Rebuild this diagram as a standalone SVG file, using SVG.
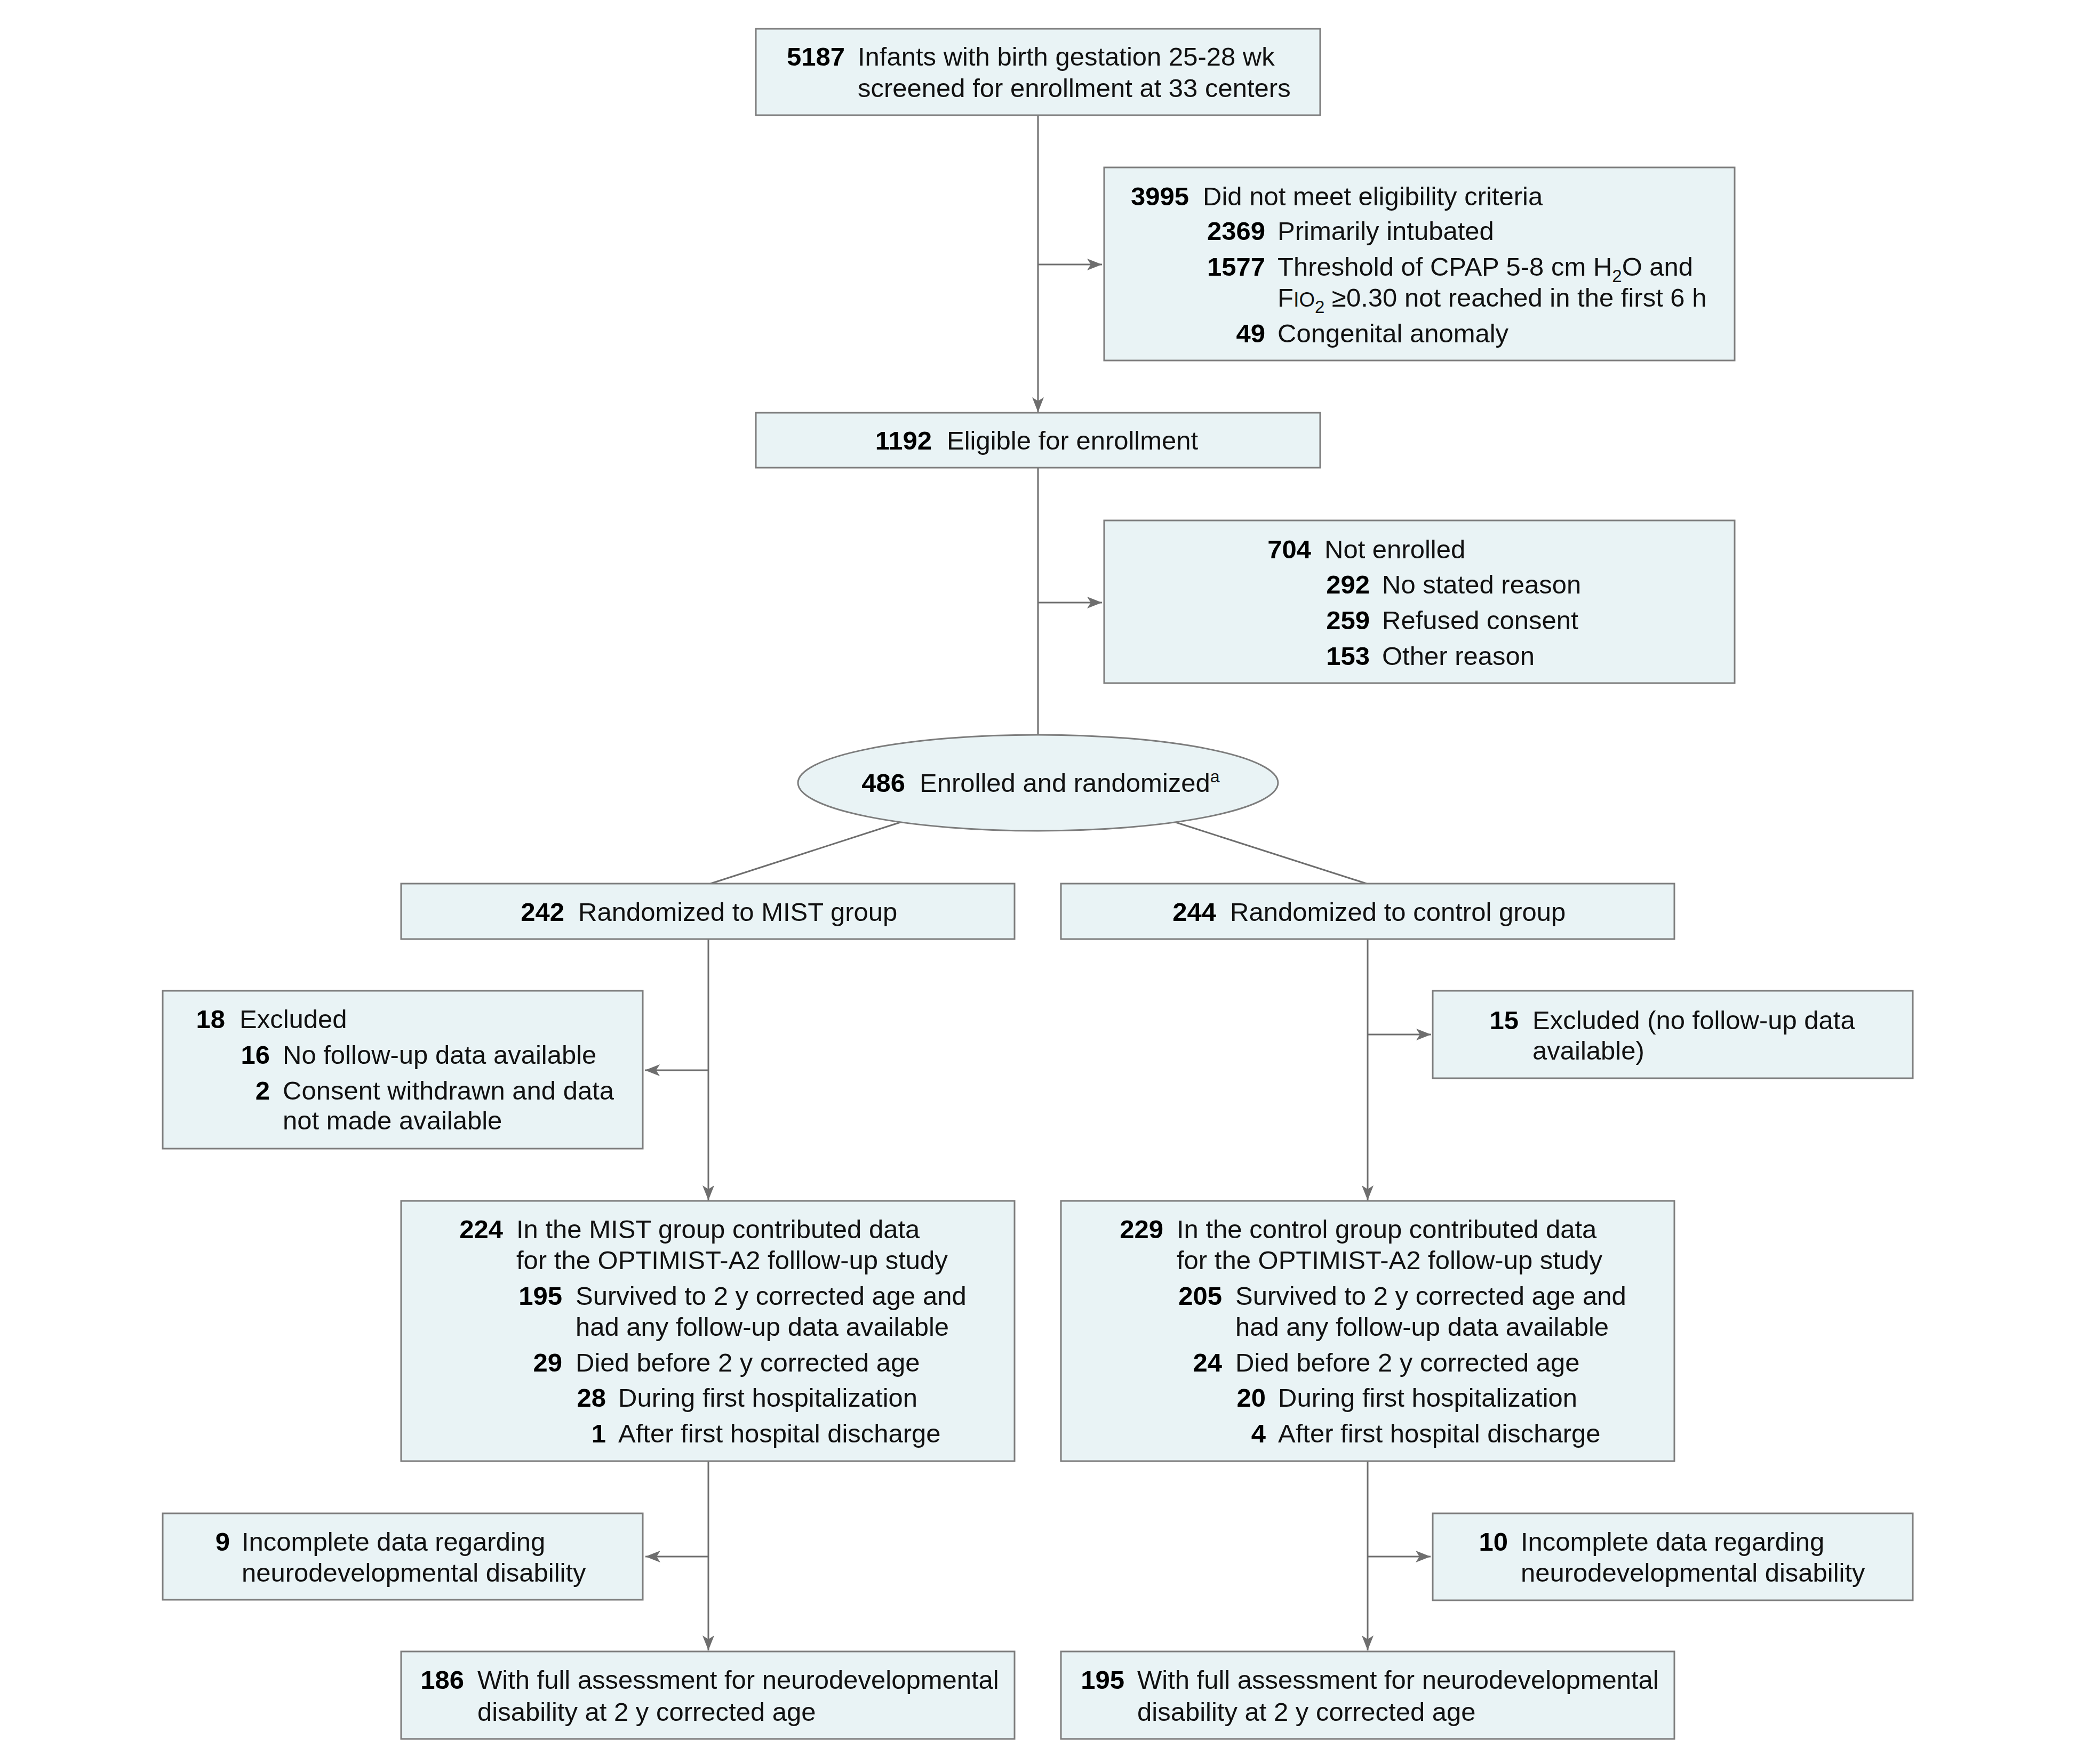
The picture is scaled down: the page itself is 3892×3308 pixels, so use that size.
<svg xmlns="http://www.w3.org/2000/svg" width="3892" height="3308" viewBox="0 0 3892 3308">
<style>
.box{fill:#e9f3f5;stroke:#7d7d7d;stroke-width:3}
.t{font-family:'Liberation Sans',Arial,sans-serif;font-size:49px;fill:#111}
.n{font-weight:bold;text-anchor:end;fill:#000}
.c{stroke:#6e6e6e;stroke-width:3;fill:none}
.a{marker-end:url(#arr)}
</style>
<defs>
<marker id="arr" markerUnits="userSpaceOnUse" markerWidth="30" markerHeight="24" refX="28" refY="11" orient="auto">
<path d="M0,0 L28,11 L0,22 L7,11 Z" fill="#6e6e6e"/>
</marker>
</defs>
<rect width="3892" height="3308" fill="#fff"/>
<g id="connectors">
<line class="c a" x1="1946" y1="216" x2="1946" y2="773"/>
<line class="c a" x1="1946" y1="496" x2="2066" y2="496"/>
<line class="c" x1="1946" y1="877" x2="1946" y2="1378"/>
<line class="c a" x1="1946" y1="1130" x2="2066" y2="1130"/>
<line class="c" x1="1688" y1="1542" x2="1332" y2="1657"/>
<line class="c" x1="2204" y1="1542" x2="2562" y2="1657"/>
<line class="c a" x1="1328" y1="1761" x2="1328" y2="2251"/>
<line class="c a" x1="1328" y1="2007" x2="1209" y2="2007"/>
<line class="c a" x1="2564" y1="1761" x2="2564" y2="2251"/>
<line class="c a" x1="2564" y1="1940" x2="2683" y2="1940"/>
<line class="c a" x1="1328" y1="2740" x2="1328" y2="3095"/>
<line class="c a" x1="1328" y1="2919" x2="1210" y2="2919"/>
<line class="c a" x1="2564" y1="2740" x2="2564" y2="3095"/>
<line class="c a" x1="2564" y1="2919" x2="2682" y2="2919"/>
</g>
<g id="screened">
<rect class="box" x="1417" y="54" width="1058" height="162"/>
<text class="t n" x="1584" y="123">5187</text>
<text class="t" x="1608" y="123">Infants with birth gestation 25-28 wk</text>
<text class="t" x="1608" y="182">screened for enrollment at 33 centers</text>
</g>
<g id="ineligible">
<rect class="box" x="2070" y="314" width="1182" height="362"/>
<text class="t n" x="2229" y="385">3995</text>
<text class="t" x="2255" y="385">Did not meet eligibility criteria</text>
<text class="t n" x="2372" y="450">2369</text>
<text class="t" x="2395" y="450">Primarily intubated</text>
<text class="t n" x="2372" y="517">1577</text>
<text class="t" x="2395" y="517">Threshold of CPAP 5-8 cm H<tspan font-size="33" dy="12">2</tspan><tspan dy="-12">O and</tspan></text>
<text class="t" x="2395" y="575">F<tspan font-size="38">IO</tspan><tspan font-size="33" dy="12">2</tspan><tspan dy="-12"> ≥0.30 not reached in the first 6 h</tspan></text>
<text class="t n" x="2372" y="642">49</text>
<text class="t" x="2395" y="642">Congenital anomaly</text>
</g>
<g id="eligible">
<rect class="box" x="1417" y="774" width="1058" height="103"/>
<text class="t n" x="1747" y="843">1192</text>
<text class="t" x="1775" y="843">Eligible for enrollment</text>
</g>
<g id="notenrolled">
<rect class="box" x="2070" y="976" width="1182" height="305"/>
<text class="t n" x="2458" y="1047">704</text>
<text class="t" x="2483" y="1047">Not enrolled</text>
<text class="t n" x="2568" y="1113">292</text>
<text class="t" x="2591" y="1113">No stated reason</text>
<text class="t n" x="2568" y="1180">259</text>
<text class="t" x="2591" y="1180">Refused consent</text>
<text class="t n" x="2568" y="1247">153</text>
<text class="t" x="2591" y="1247">Other reason</text>
</g>
<g id="randomized">
<ellipse class="box" cx="1946" cy="1468" rx="450" ry="90"/>
<text class="t n" x="1697" y="1485">486</text>
<text class="t" x="1724" y="1485">Enrolled and randomized<tspan font-size="32" dy="-18">a</tspan></text>
</g>
<g id="mist">
<rect class="box" x="752" y="1657" width="1150" height="104"/>
<text class="t n" x="1058" y="1727">242</text>
<text class="t" x="1084" y="1727">Randomized to MIST group</text>
</g>
<g id="control">
<rect class="box" x="1989" y="1657" width="1150" height="104"/>
<text class="t n" x="2280" y="1727">244</text>
<text class="t" x="2306" y="1727">Randomized to control group</text>
</g>
<g id="mist-excluded">
<rect class="box" x="305" y="1858" width="900" height="296"/>
<text class="t n" x="422" y="1928">18</text>
<text class="t" x="449" y="1928">Excluded</text>
<text class="t n" x="506" y="1995">16</text>
<text class="t" x="530" y="1995">No follow-up data available</text>
<text class="t n" x="506" y="2062">2</text>
<text class="t" x="530" y="2062">Consent withdrawn and data</text>
<text class="t" x="530" y="2118">not made available</text>
</g>
<g id="control-excluded">
<rect class="box" x="2686" y="1858" width="900" height="164"/>
<text class="t n" x="2847" y="1930">15</text>
<text class="t" x="2873" y="1930">Excluded (no follow-up data</text>
<text class="t" x="2873" y="1987">available)</text>
</g>
<g id="mist-followup">
<rect class="box" x="752" y="2252" width="1150" height="488"/>
<text class="t n" x="943" y="2322">224</text>
<text class="t" x="968" y="2322">In the MIST group contributed data</text>
<text class="t" x="968" y="2380">for the OPTIMIST-A2 folllow-up study</text>
<text class="t n" x="1054" y="2447">195</text>
<text class="t" x="1079" y="2447">Survived to 2 y corrected age and</text>
<text class="t" x="1079" y="2505">had any follow-up data available</text>
<text class="t n" x="1054" y="2572">29</text>
<text class="t" x="1079" y="2572">Died before 2 y corrected age</text>
<text class="t n" x="1136" y="2638">28</text>
<text class="t" x="1159" y="2638">During first hospitalization</text>
<text class="t n" x="1136" y="2705">1</text>
<text class="t" x="1159" y="2705">After first hospital discharge</text>
</g>
<g id="control-followup">
<rect class="box" x="1989" y="2252" width="1150" height="488"/>
<text class="t n" x="2181" y="2322">229</text>
<text class="t" x="2206" y="2322">In the control group contributed data</text>
<text class="t" x="2206" y="2380">for the OPTIMIST-A2 follow-up study</text>
<text class="t n" x="2291" y="2447">205</text>
<text class="t" x="2316" y="2447">Survived to 2 y corrected age and</text>
<text class="t" x="2316" y="2505">had any follow-up data available</text>
<text class="t n" x="2291" y="2572">24</text>
<text class="t" x="2316" y="2572">Died before 2 y corrected age</text>
<text class="t n" x="2373" y="2638">20</text>
<text class="t" x="2396" y="2638">During first hospitalization</text>
<text class="t n" x="2373" y="2705">4</text>
<text class="t" x="2396" y="2705">After first hospital discharge</text>
</g>
<g id="mist-incomplete">
<rect class="box" x="305" y="2838" width="900" height="162"/>
<text class="t n" x="431" y="2908">9</text>
<text class="t" x="453" y="2908">Incomplete data regarding</text>
<text class="t" x="453" y="2966">neurodevelopmental disability</text>
</g>
<g id="control-incomplete">
<rect class="box" x="2686" y="2838" width="900" height="163"/>
<text class="t n" x="2827" y="2908">10</text>
<text class="t" x="2851" y="2908">Incomplete data regarding</text>
<text class="t" x="2851" y="2966">neurodevelopmental disability</text>
</g>
<g id="mist-full">
<rect class="box" x="752" y="3097" width="1150" height="164"/>
<text class="t n" x="870" y="3167">186</text>
<text class="t" x="895" y="3167">With full assessment for neurodevelopmental</text>
<text class="t" x="895" y="3227">disability at 2 y corrected age</text>
</g>
<g id="control-full">
<rect class="box" x="1989" y="3097" width="1150" height="164"/>
<text class="t n" x="2108" y="3167">195</text>
<text class="t" x="2132" y="3167">With full assessment for neurodevelopmental</text>
<text class="t" x="2132" y="3227">disability at 2 y corrected age</text>
</g>
</svg>
